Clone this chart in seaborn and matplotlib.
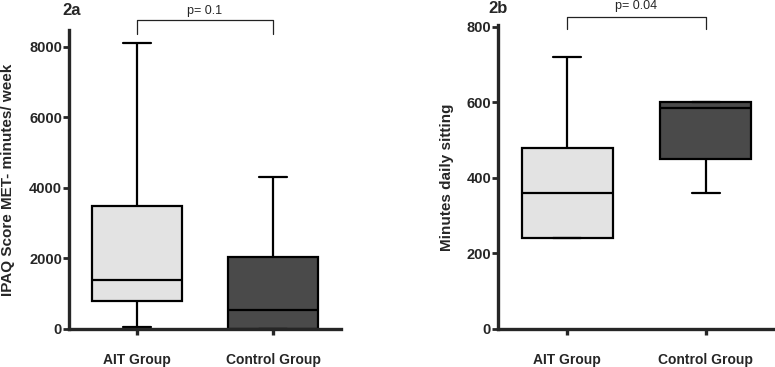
import pandas as pd
import matplotlib.pyplot as plt
import seaborn as sns

# five-number summaries: min, Q1, median, Q3, max
groups = ["AIT Group", "Control Group"]
ipaq_ait = [60, 800, 1400, 3500, 8100]
ipaq_control = [0, 0, 530, 2050, 4300]
sitting_ait = [240, 240, 360, 480, 720]
sitting_control = [360, 450, 585, 600, 600]

panel_titles = ["2a", "2b"]
p_labels = ["p= 0.1", "p= 0.04"]
y_labels = ["IPAQ Score MET- minutes/ week", "Minutes daily sitting"]
y_ticks = [[0, 2000, 4000, 6000, 8000], [0, 200, 400, 600, 800]]
y_tops = [8480, 805]
box_colors = ["#e3e3e3", "#4a4a4a"]


def long_table(ait, control):
    return pd.DataFrame({
        "group": [groups[0]] * len(ait) + [groups[1]] * len(control),
        "value": ait + control,
    })


tables = [long_table(ipaq_ait, ipaq_control), long_table(sitting_ait, sitting_control)]

sns.set_style("ticks")
plt.rcParams["font.family"] = ["Liberation Sans", "DejaVu Sans"]

fig = plt.figure(figsize=(7.75, 3.67), dpi=100)
axes = [fig.add_axes([69 / 775, 38 / 367, 272 / 775, 299 / 367]),
        fig.add_axes([498 / 775, 38 / 367, 277 / 775, 304 / 367])]
label_x = [-0.2, -0.16]
title_pos = [(0.011, 1.064), (0.0, 1.053)]
bracket = [(1.033, 0.987, 1.063), (1.026, 0.987, 1.063)]

for i, ax in enumerate(axes):
    sns.boxplot(data=tables[i], x="group", y="value", hue="group",
                palette=box_colors, saturation=1, whis=(0, 100),
                width=0.66, linecolor="black", linewidth=1.6,
                capwidths=0.2, legend=False, ax=ax)
    ax.set_xlim(-0.5, 1.5)
    ax.set_ylim(0, y_tops[i])
    ax.set_yticks(y_ticks[i])
    sns.despine(ax=ax)
    for s in ["left", "bottom"]:
        ax.spines[s].set_linewidth(2.4)
    ax.tick_params(axis="y", length=4, width=2, labelsize=10.5, pad=1)
    ax.tick_params(axis="x", length=4, width=2.4, labelsize=10, pad=13)
    for lab in ax.get_xticklabels() + ax.get_yticklabels():
        lab.set_fontweight("bold")
    ax.set_xlabel("")
    ax.set_ylabel(y_labels[i], fontsize=11, fontweight="bold")
    ax.yaxis.set_label_coords(label_x[i], 0.5)
    ax.text(*title_pos[i], panel_titles[i], transform=ax.transAxes,
            ha="center", va="center", fontsize=12, fontweight="bold")

    top, low, ty = bracket[i]
    tr = ax.get_xaxis_transform()
    ax.plot([0, 0, 1, 1], [low, top, top, low], transform=tr, color="#222222",
            lw=0.9, clip_on=False)
    ax.text(0.5, ty, p_labels[i], transform=tr, ha="center", va="center",
            fontsize=9)

fig.savefig("out.png", dpi=100)
